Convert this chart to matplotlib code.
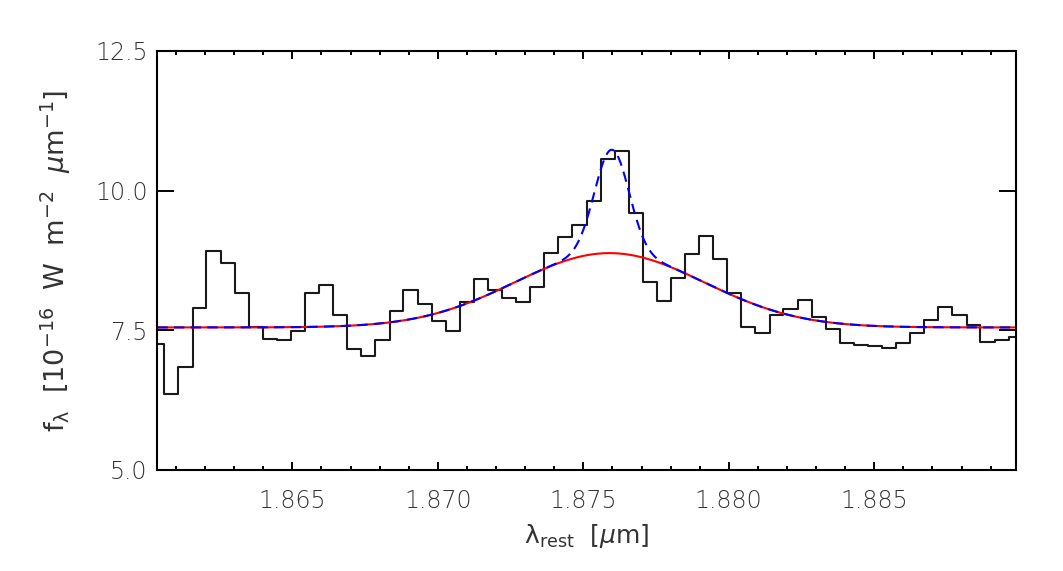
import numpy as np
import matplotlib.pyplot as plt
from matplotlib.ticker import MultipleLocator, FormatStrFormatter

# observed spectrum (bin centres in micron, flux in 1e-16 W m^-2 um^-1)
wave = [1.86036, 1.86084, 1.86133, 1.86181, 1.86229, 1.86278, 1.86326, 1.86375,
        1.86423, 1.86471, 1.86520, 1.86568, 1.86616, 1.86665, 1.86713, 1.86761,
        1.86810, 1.86858, 1.86906, 1.86955, 1.87003, 1.87052, 1.87100, 1.87148,
        1.87197, 1.87245, 1.87293, 1.87342, 1.87390, 1.87438, 1.87487, 1.87535,
        1.87584, 1.87632, 1.87680, 1.87729, 1.87777, 1.87825, 1.87874, 1.87922,
        1.87970, 1.88019, 1.88067, 1.88116, 1.88164, 1.88212, 1.88261, 1.88309,
        1.88357, 1.88406, 1.88454, 1.88502, 1.88551, 1.88599, 1.88647, 1.88696,
        1.88744, 1.88793, 1.88841, 1.88889, 1.88938, 1.88986]
flux = [7.25, 6.36, 6.84, 7.89, 8.91, 8.70, 8.16, 7.55,
        7.34, 7.32, 7.49, 8.17, 8.31, 7.77, 7.16, 7.04,
        7.32, 7.85, 8.22, 7.97, 7.67, 7.48, 8.00, 8.41,
        8.22, 8.07, 8.01, 8.28, 8.88, 9.16, 9.39, 9.81,
        10.56, 10.71, 9.60, 8.37, 8.03, 8.44, 8.86, 9.18,
        8.78, 8.16, 7.55, 7.45, 7.77, 7.88, 8.04, 7.73,
        7.52, 7.27, 7.23, 7.22, 7.18, 7.27, 7.45, 7.68,
        7.91, 7.77, 7.59, 7.29, 7.32, 7.37]

# line fit: continuum + broad gaussian (+ narrow gaussian)
cont = 7.55
broad_amp, broad_cen, broad_sig = 1.33, 1.87590, 0.00326
narrow_amp, narrow_cen, narrow_sig = 1.85, 1.87598, 0.00059


def gauss(x, a, c, s):
    return a * np.exp(-0.5 * ((x - c) / s) ** 2)


fig = plt.figure(figsize=(10.63, 5.71), dpi=100)
ax = fig.add_axes([0.148, 0.177, 0.8075, 0.734])

lam = np.linspace(wave[0], wave[-1], 1000)
broad = cont + gauss(lam, broad_amp, broad_cen, broad_sig)
total = broad + gauss(lam, narrow_amp, narrow_cen, narrow_sig)

ax.step(wave, flux, where='mid', color='#1a1a1a', lw=1.5)
ax.plot(lam, broad, color='red', lw=1.5)
ax.plot(lam, total, color='blue', lw=1.5, ls=(0, (5, 3)))

ax.set_xlim(wave[0], wave[-1])
ax.set_ylim(5.0, 12.5)

ax.xaxis.set_major_locator(MultipleLocator(0.005))
ax.xaxis.set_minor_locator(MultipleLocator(0.001))
ax.xaxis.set_major_formatter(FormatStrFormatter('%.3f'))
ax.yaxis.set_major_locator(MultipleLocator(2.5))
ax.yaxis.set_major_formatter(FormatStrFormatter('%.1f'))

ax.tick_params(axis='x', which='major', direction='in', length=6.1, width=1.4,
               top=True, pad=14, labelsize=17, labelcolor='#333333')
ax.tick_params(axis='x', which='minor', direction='in', length=3, width=1.4, top=True)
ax.tick_params(axis='y', which='major', direction='in', length=12.2, width=1.4,
               right=True, pad=7, labelsize=17, labelcolor='#333333')
for lab in ax.get_xticklabels() + ax.get_yticklabels():
    lab.set_fontweight('light')
for sp in ax.spines.values():
    sp.set_linewidth(1.5)

ax.set_xlabel(r'λ$_{\mathrm{rest}}$  [$\mu$m]', fontsize=18, color='#333333', labelpad=6)
ax.set_ylabel(r'f$_{\mathrm{λ}}$  [10$^{-16}$  W  m$^{-2}$  $\mu$m$^{-1}$]', fontsize=19.5,
              color='#333333', labelpad=16)

fig.savefig('out.png', dpi=100)
